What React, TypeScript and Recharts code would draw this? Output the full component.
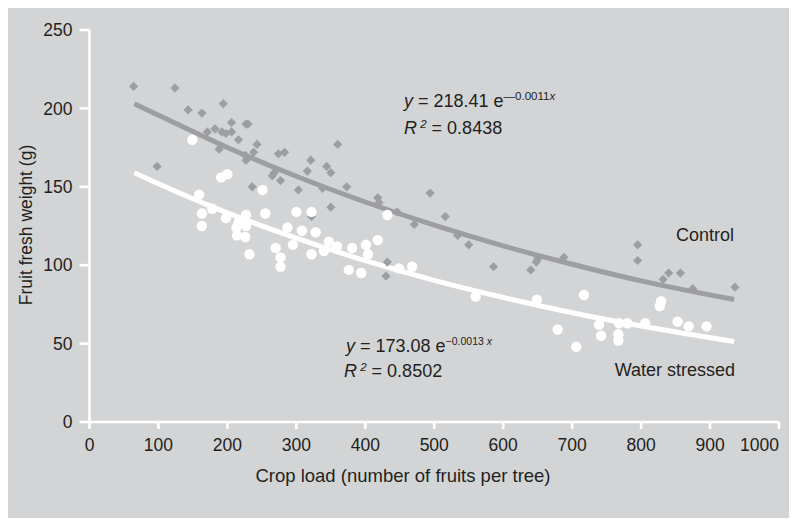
import React from 'react';
import { ComposedChart, Scatter, Line, XAxis, YAxis } from 'recharts';

// crop load (fruits per tree) vs fruit fresh weight (g)
const controlPoints: [number, number][] = [
  [64, 214], [124, 213], [143, 199], [163, 197], [194, 203], [206, 191], [227, 190],
  [230, 190], [182, 187], [192, 185], [198, 184], [206, 185], [171, 185], [216, 180],
  [243, 177], [188, 174], [226, 170], [238, 172], [227, 167], [274, 171], [283, 172],
  [321, 167], [98, 163], [265, 157], [268, 159], [277, 154], [316, 160], [344, 163],
  [236, 150], [303, 148], [338, 149], [322, 131], [350, 137], [360, 177], [350, 159],
  [373, 150], [418, 143], [420, 140], [446, 134], [494, 146], [471, 126], [516, 131],
  [534, 119], [550, 113], [432, 102], [430, 93], [586, 99], [640, 97], [650, 104],
  [648, 102], [688, 105], [795, 113], [795, 103], [840, 95], [857, 95], [832, 91],
  [875, 85], [936, 86],
];

const stressedPoints: [number, number][] = [
  [149, 180], [191, 156], [200, 158], [159, 145], [163, 133], [163, 125], [178, 136],
  [198, 130], [227, 132], [216, 127], [213, 124], [227, 125], [214, 119], [226, 118],
  [251, 148], [255, 133], [232, 107], [270, 111], [277, 105], [277, 99], [287, 124],
  [300, 134], [322, 134], [308, 122], [328, 121], [295, 113], [322, 107], [340, 109],
  [347, 115], [359, 112], [381, 111], [401, 113], [418, 116], [432, 132], [404, 107],
  [376, 97], [394, 95], [449, 98], [468, 99], [560, 80], [649, 78], [717, 81],
  [679, 59], [706, 48], [739, 62], [742, 55], [767, 56], [767, 52], [768, 63],
  [780, 63], [806, 63], [829, 77], [827, 74], [853, 64], [869, 61], [895, 61],
];

// fitted curves
const controlFit: [number, number][] = [
  [65, 203], [100, 195.7], [200, 175.1], [300, 156.7], [400, 140.3], [500, 125.5],
  [600, 112.3], [700, 100.6], [800, 90], [935, 78.1],
];
const stressedFit: [number, number][] = [
  [65, 159], [100, 152], [200, 133.4], [300, 117.2], [400, 102.9], [500, 90.3],
  [600, 79.4], [700, 69.7], [800, 61.2], [935, 51.3],
];

const xTicks = [0, 100, 200, 300, 400, 500, 600, 700, 800, 900, 1000];
const yTicks = [0, 50, 100, 150, 200, 250];

const toXY = (pts: [number, number][]) => pts.map(([x, y]) => ({ x, y }));

const BG = '#d3d4d6';
const GREY = '#9d9ea1';
const INK = '#231f20';
const FONT = '"Liberation Sans", Arial, Helvetica, sans-serif';
const TICK_FS = 17.5;

function Diamond(props: any) {
  const { cx, cy } = props;
  const r = 4.6;
  return (
    <polygon
      points={`${cx},${cy - r} ${cx + r},${cy} ${cx},${cy + r} ${cx - r},${cy}`}
      fill={GREY}
    />
  );
}

function WhiteDot(props: any) {
  const { cx, cy } = props;
  return <circle cx={cx} cy={cy} r={5.2} fill="#ffffff" />;
}

// last label sits flush with its tick so it stays on the page
function XTick(props: any) {
  const { x, y, payload } = props;
  const last = payload.value === xTicks[xTicks.length - 1];
  return (
    <text x={x} y={y} dy="0.71em" textAnchor={last ? 'end' : 'middle'}
      fill={INK} fontSize={TICK_FS} fontFamily={FONT}>
      {payload.value}
    </text>
  );
}

const W = 789;
const H = 510;

export default function App() {
  const tick = { fill: INK, fontSize: TICK_FS, fontFamily: FONT };
  const axisLine = { stroke: '#ffffff', strokeWidth: 2.6 };
  return (
    <>
      <style>{'html,body{overflow:hidden}'}</style>
      <div style={{ position: 'relative', width: W, height: H, background: BG }}>
        <ComposedChart
          width={W}
          height={H}
          margin={{ top: 22, right: 18, bottom: 66, left: 0 }}
        >
          <XAxis
            dataKey="x"
            type="number"
            domain={[0, 1000]}
            ticks={xTicks}
            interval={0}
            tickSize={7}
            tickMargin={10}
            height={30}
            axisLine={axisLine}
            tickLine={axisLine}
            tick={<XTick />}
          />
          <YAxis
            type="number"
            domain={[0, 250]}
            ticks={yTicks}
            interval={0}
            tickSize={10}
            tickMargin={7}
            width={81.5}
            axisLine={axisLine}
            tickLine={axisLine}
            tick={tick}
          />
          <Scatter
            data={toXY(controlPoints)}
            dataKey="y"
            shape={<Diamond />}
            isAnimationActive={false}
          />
          <Line
            data={toXY(controlFit)}
            dataKey="y"
            type="monotone"
            stroke={GREY}
            strokeWidth={5}
            dot={false}
            activeDot={false}
            isAnimationActive={false}
          />
          <Scatter
            data={toXY(stressedPoints)}
            dataKey="y"
            shape={<WhiteDot />}
            isAnimationActive={false}
          />
          <Line
            data={toXY(stressedFit)}
            dataKey="y"
            type="monotone"
            stroke="#ffffff"
            strokeWidth={5}
            dot={false}
            activeDot={false}
            isAnimationActive={false}
          />
        </ComposedChart>
        <svg
          width={W}
          height={H}
          style={{ position: 'absolute', left: 0, top: 0, pointerEvents: 'none' }}
          fontFamily={FONT}
          fill={INK}
        >
          <text x={19} y={217} fontSize={17.5} textAnchor="middle" dominantBaseline="middle" transform="rotate(-90 19 217)">
            Fruit fresh weight (g)
          </text>
          <text x={395} y={474} fontSize={18.5} textAnchor="middle">
            Crop load (number of fruits per tree)
          </text>

          <text x={396} y={99} fontSize={18}>
            <tspan fontStyle="italic">y</tspan> = 218.41 e
            <tspan dy={-7} fontSize={11.5}>—0.0011</tspan>
            <tspan fontSize={11.5} fontStyle="italic">x</tspan>
          </text>
          <text x={396} y={126} fontSize={18}>
            <tspan fontStyle="italic">R</tspan>
            <tspan dy={-6} fontSize={11.5} fontStyle="italic"> 2</tspan>
            <tspan dy={6}> = 0.8438</tspan>
          </text>

          <text x={726} y={233} fontSize={18} textAnchor="end">Control</text>
          <text x={727} y={368} fontSize={18} textAnchor="end">Water stressed</text>

          <text x={338} y={344} fontSize={18}>
            <tspan fontStyle="italic">y</tspan> = 173.08 e
            <tspan dy={-7} fontSize={10.5}>−0.0013 </tspan>
            <tspan fontSize={10.5} fontStyle="italic">x</tspan>
          </text>
          <text x={336} y={369} fontSize={18}>
            <tspan fontStyle="italic">R</tspan>
            <tspan dy={-6} fontSize={11.5} fontStyle="italic"> 2</tspan>
            <tspan dy={6}> = 0.8502</tspan>
          </text>
        </svg>
      </div>
    </>
  );
}
